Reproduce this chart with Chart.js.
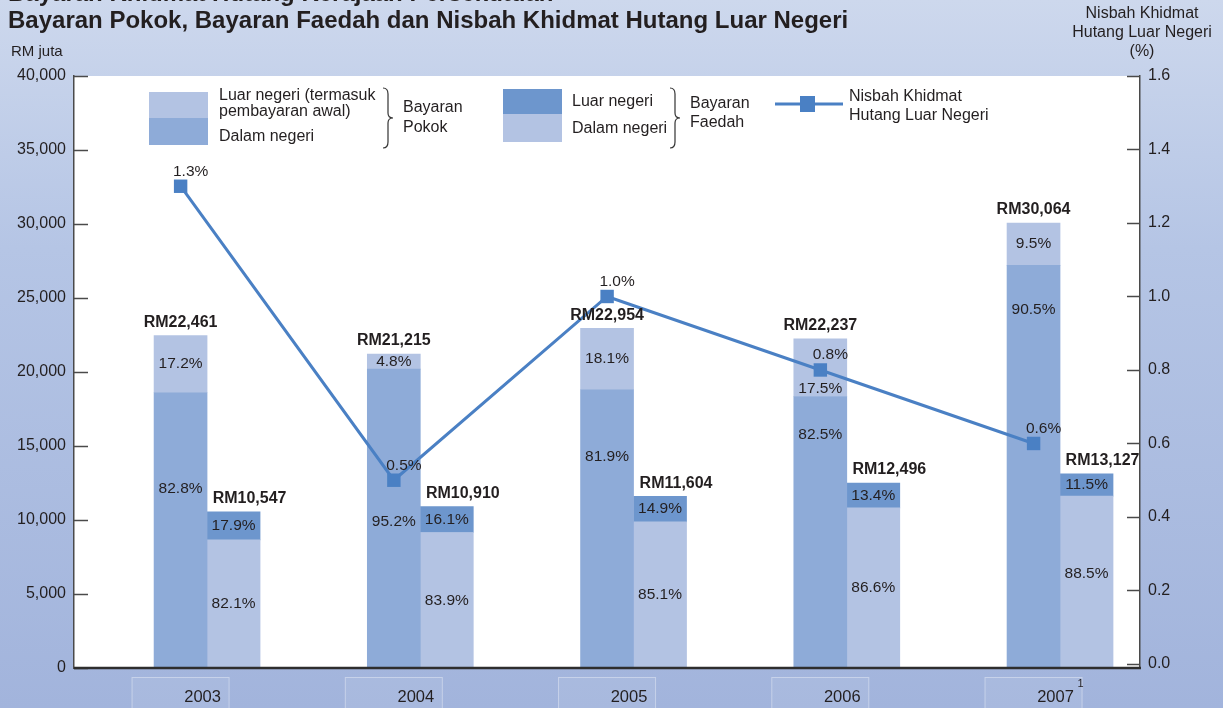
<!DOCTYPE html>
<html>
<head>
<meta charset="utf-8">
<script src="https://cdn.jsdelivr.net/npm/chart.js@4.4.0/dist/chart.umd.min.js"></script>
<style>
  html, body { margin: 0; padding: 0; background: #b6c6e6; }
  #wrap { width: 1223px; height: 708px; position: relative; }
</style>
</head>
<body>
<div id="wrap"><canvas id="chart" width="1223" height="708"></canvas></div>
<script>
// data
const years = ["2003", "2004", "2005", "2006", "2007"];
const pokokTotal = [22461, 21215, 22954, 22237, 30064];
const pokokLuarPct = [17.2, 4.8, 18.1, 17.5, 9.5];
const pokokDalamPct = [82.8, 95.2, 81.9, 82.5, 90.5];
const faedahTotal = [10547, 10910, 11604, 12496, 13127];
const faedahLuarPct = [17.9, 16.1, 14.9, 13.4, 11.5];
const faedahDalamPct = [82.1, 83.9, 85.1, 86.6, 88.5];
const nisbah = [1.3, 0.5, 1.0, 0.8, 0.6];
const leftTicks = [0, 5000, 10000, 15000, 20000, 25000, 30000, 35000, 40000];
const rightTicks = [0.0, 0.2, 0.4, 0.6, 0.8, 1.0, 1.2, 1.4, 1.6];

const FONT = '"Liberation Sans", Arial, Helvetica, sans-serif';
const INK = "#231f20";
const colors = {
  pokokLuar: "#b3c3e3",
  pokokDalam: "#8eabd8",
  faedahLuar: "#6d96cd",
  faedahDalam: "#b3c3e3",
  line: "#4a80c4",
  axis: "#4a4a4a"
};
const BAR_W = 53;
const LINE_SHIFT = -0.124; // line sits over the Pokok bar

// where the percent text sits inside a segment (0 = bottom, 1 = top)
const labelPos = {
  pokokDalam: [0.65, 0.49, 0.76, 0.86, 0.89],
  pokokLuar: [0.5, 0.5, 0.5, 0.14, 0.5],
  faedahDalam: [0.5, 0.5, 0.5, 0.5, 0.55],
  faedahLuar: [0.5, 0.5, 0.5, 0.5, 0.5]
};

const part = (tot, pct) => tot.map((t, i) => ({ x: i, y: t * pct[i] / 100 }));
const fmtPct = v => v.toFixed(1) + "%";
const fmtRM = v => "RM" + v.toLocaleString("en-US");

Chart.defaults.font.family = FONT;
Chart.defaults.color = INK;

function brace(ctx, x, y0, y1) {
  const mid = (y0 + y1) / 2;
  ctx.beginPath();
  ctx.moveTo(x, y0);
  ctx.quadraticCurveTo(x + 5, y0, x + 5, y0 + 6);
  ctx.lineTo(x + 5, mid - 5);
  ctx.quadraticCurveTo(x + 5, mid, x + 10, mid);
  ctx.quadraticCurveTo(x + 5, mid, x + 5, mid + 5);
  ctx.lineTo(x + 5, y1 - 6);
  ctx.quadraticCurveTo(x + 5, y1, x, y1);
  ctx.strokeStyle = "#333";
  ctx.lineWidth = 1.2;
  ctx.stroke();
}

const backdrop = {
  id: "backdrop",
  beforeDraw(chart) {
    const { ctx, chartArea: a } = chart;
    const g = ctx.createLinearGradient(0, 0, 0, chart.height);
    g.addColorStop(0, "#cdd8ed");
    g.addColorStop(0.35, "#b5c5e5");
    g.addColorStop(1, "#a2b4dc");
    ctx.save();
    ctx.fillStyle = g;
    ctx.fillRect(0, 0, chart.width, chart.height);
    ctx.fillStyle = "#ffffff";
    ctx.fillRect(a.left, a.top, a.right - a.left, a.bottom - a.top);
    ctx.restore();
  }
};

const decorations = {
  id: "decorations",
  afterDraw(chart) {
    const { ctx, chartArea: a, scales } = chart;
    ctx.save();

    // inward tick marks
    ctx.strokeStyle = colors.axis;
    ctx.lineWidth = 1.5;
    leftTicks.forEach(v => {
      const y = Math.round(scales.y.getPixelForValue(v)) + 0.5;
      ctx.beginPath(); ctx.moveTo(a.left, y); ctx.lineTo(a.left + 14, y); ctx.stroke();
    });
    rightTicks.forEach(v => {
      const y = Math.round(scales.y1.getPixelForValue(v)) + 0.5;
      ctx.beginPath(); ctx.moveTo(a.right - 13, y); ctx.lineTo(a.right, y); ctx.stroke();
    });
    // base line
    ctx.strokeStyle = "#2e2e2e";
    ctx.lineWidth = 2.5;
    ctx.beginPath(); ctx.moveTo(a.left, a.bottom); ctx.lineTo(a.right + 1, a.bottom); ctx.stroke();

    // bar labels
    const metas = {
      pokokDalam: chart.getDatasetMeta(1), pokokLuar: chart.getDatasetMeta(2),
      faedahDalam: chart.getDatasetMeta(3), faedahLuar: chart.getDatasetMeta(4)
    };
    const pcts = { pokokDalam: pokokDalamPct, pokokLuar: pokokLuarPct, faedahDalam: faedahDalamPct, faedahLuar: faedahLuarPct };
    ctx.fillStyle = INK;
    ctx.textAlign = "center";
    ctx.textBaseline = "middle";
    ctx.font = "15.5px " + FONT;
    Object.keys(metas).forEach(k => {
      metas[k].data.forEach((el, i) => {
        const f = labelPos[k][i];
        ctx.fillText(fmtPct(pcts[k][i]), el.x, el.base - f * (el.base - el.y));
      });
    });
    ctx.font = "bold 16px " + FONT;
    ctx.textBaseline = "bottom";
    metas.pokokLuar.data.forEach((el, i) => ctx.fillText(fmtRM(pokokTotal[i]), el.x, el.y - 5));
    metas.faedahLuar.data.forEach((el, i) => ctx.fillText(fmtRM(faedahTotal[i]), el.x + 16, el.y - 5));

    // line labels
    ctx.font = "15.5px " + FONT;
    ctx.textBaseline = "middle";
    chart.getDatasetMeta(0).data.forEach((pt, i) => {
      ctx.fillText(fmtPct(nisbah[i]), pt.x + 10, pt.y - 15);
    });

    // year boxes and labels
    metas.pokokDalam.data.forEach((el, i) => {
      ctx.fillStyle = "rgba(255,255,255,0.07)";
      ctx.strokeStyle = "rgba(255,255,255,0.35)";
      ctx.lineWidth = 1;
      ctx.fillRect(el.x - 49, 677, 98, 40);
      ctx.strokeRect(el.x - 48.5, 677.5, 97, 40);
      ctx.fillStyle = INK;
      ctx.font = "16.5px " + FONT;
      ctx.textAlign = "center";
      ctx.fillText(years[i], el.x + 22, 697);
      if (i === years.length - 1) {
        ctx.font = "11px " + FONT;
        ctx.fillText("1", el.x + 47, 684);
      }
    });

    // titles
    ctx.textAlign = "left";
    ctx.font = "bold 24px " + FONT;
    ctx.textBaseline = "alphabetic";
    ctx.fillText("Bayaran Khidmat Hutang Kerajaan Persekutuan", 8, 1);
    ctx.fillText("Bayaran Pokok, Bayaran Faedah dan Nisbah Khidmat Hutang Luar Negeri", 8, 28);
    ctx.font = "15px " + FONT;
    ctx.textBaseline = "middle";
    ctx.fillText("RM juta", 11, 52);
    ctx.font = "16px " + FONT;
    ctx.textAlign = "center";
    ctx.fillText("Nisbah Khidmat", 1142, 14);
    ctx.fillText("Hutang Luar Negeri", 1142, 33);
    ctx.fillText("(%)", 1142, 52);

    // legend
    ctx.fillStyle = colors.pokokLuar; ctx.fillRect(149, 92, 59, 26);
    ctx.fillStyle = colors.pokokDalam; ctx.fillRect(149, 118, 59, 27);
    ctx.fillStyle = colors.faedahLuar; ctx.fillRect(503, 89, 59, 25);
    ctx.fillStyle = colors.faedahDalam; ctx.fillRect(503, 114, 59, 28);
    ctx.strokeStyle = colors.line; ctx.lineWidth = 3;
    ctx.beginPath(); ctx.moveTo(775, 104); ctx.lineTo(843, 104); ctx.stroke();
    ctx.fillStyle = colors.line; ctx.fillRect(800, 96, 15, 16);

    ctx.fillStyle = INK;
    ctx.textAlign = "left";
    ctx.font = "16px " + FONT;
    ctx.fillText("Luar negeri (termasuk", 219, 96);
    ctx.fillText("pembayaran awal)", 219, 112);
    ctx.fillText("Dalam negeri", 219, 137);
    ctx.fillText("Bayaran", 403, 108);
    ctx.fillText("Pokok", 403, 128);
    ctx.fillText("Luar negeri", 572, 102);
    ctx.fillText("Dalam negeri", 572, 129);
    ctx.fillText("Bayaran", 690, 104);
    ctx.fillText("Faedah", 690, 123);
    ctx.fillText("Nisbah Khidmat", 849, 97);
    ctx.fillText("Hutang Luar Negeri", 849, 116);
    brace(ctx, 383, 88, 148);
    brace(ctx, 670, 88, 148);

    ctx.restore();
  }
};

const chart = new Chart(document.getElementById("chart"), {
  type: "bar",
  data: {
    datasets: [
      {
        type: "line",
        label: "Nisbah Khidmat Hutang Luar Negeri",
        data: nisbah.map((v, i) => ({ x: i + LINE_SHIFT, y: v })),
        yAxisID: "y1",
        borderColor: colors.line,
        borderWidth: 3,
        pointStyle: "rect",
        pointRadius: 9.5,
        pointBackgroundColor: colors.line,
        pointBorderWidth: 0,
        tension: 0,
        order: 0
      },
      { label: "Pokok dalam negeri", data: part(pokokTotal, pokokDalamPct), stack: "p", backgroundColor: colors.pokokDalam, yAxisID: "y", order: 1 },
      { label: "Pokok luar negeri", data: part(pokokTotal, pokokLuarPct), stack: "p", backgroundColor: colors.pokokLuar, yAxisID: "y", order: 1 },
      { label: "Faedah dalam negeri", data: part(faedahTotal, faedahDalamPct), stack: "f", backgroundColor: colors.faedahDalam, yAxisID: "y", order: 1 },
      { label: "Faedah luar negeri", data: part(faedahTotal, faedahLuarPct), stack: "f", backgroundColor: colors.faedahLuar, yAxisID: "y", order: 1 }
    ]
  },
  options: {
    responsive: false,
    animation: false,
    devicePixelRatio: 1,
    barThickness: BAR_W,
    layout: { padding: { top: 76, bottom: 40, left: 0, right: 0 } },
    plugins: { legend: { display: false }, tooltip: { enabled: false } },
    scales: {
      x: { type: "linear", offset: false, min: -0.624, max: 4.375, display: false, stacked: true },
      y: {
        stacked: true,
        position: "left",
        min: 0, max: 40000,
        grid: { display: false, drawTicks: false },
        border: { display: true, color: colors.axis, width: 1.5 },
        ticks: { padding: 8, color: INK, font: { size: 16 }, callback: v => v.toLocaleString("en-US") },
        afterBuildTicks: s => { s.ticks = leftTicks.map(v => ({ value: v })); },
        afterFit: s => { s.width = 74; }
      },
      y1: {
        position: "right",
        min: -0.011, max: 1.6,
        grid: { display: false, drawTicks: false },
        border: { display: true, color: colors.axis, width: 1.5 },
        ticks: { padding: 8, color: INK, font: { size: 16 }, callback: v => v.toFixed(1) },
        afterBuildTicks: s => { s.ticks = rightTicks.map(v => ({ value: v })); },
        afterFit: s => { s.width = 83; }
      }
    }
  },
  plugins: [backdrop, decorations]
});
</script>
</body>
</html>
